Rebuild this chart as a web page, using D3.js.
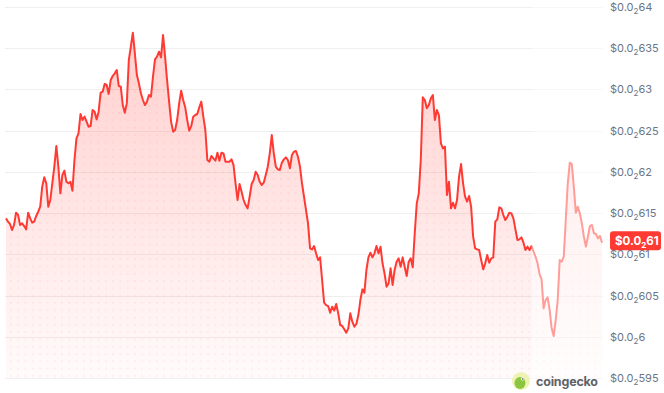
<!DOCTYPE html>
<html lang="en">
<head>
    <meta charset="UTF-8">
    <title>Price chart 24h</title>
    <script src="https://d3js.org/d3.v7.min.js"></script>
    <style>
        html, body { margin: 0; padding: 0; background: #fff; }
        #chart { width: 664px; height: 393px; }
        .tick-label { font-family: Inter, "Open Sans", sans-serif; font-size: 11px; fill: #6b7588; }
        .grid line { stroke: #efefef; stroke-width: 1; }
        .badge-text { font-family: Inter, sans-serif; font-size: 11.5px; font-weight: 700; fill: #fff; }
        .brand { font-family: Inter, sans-serif; font-size: 12.5px; font-weight: 700; fill: #5f6368; }
    </style>
</head>
<body>
    <div id="chart"></div>

    <script>
        // price every ~5 minutes over 24h
        const prices = [
            0.0061436, 0.0061396, 0.0061368, 0.0061295, 0.0061356, 0.0061505, 0.0061477, 0.0061356, 0.0061376, 0.0061343,
            0.0061303, 0.0061505, 0.0061436, 0.0061384, 0.0061396, 0.0061465, 0.0061517, 0.0061578, 0.0061821, 0.0061934,
            0.0061861, 0.0061578, 0.0061659, 0.0061861, 0.0062063, 0.0062314, 0.0062063, 0.0061740, 0.0061962, 0.0062015,
            0.0061881, 0.0061861, 0.0061881, 0.0061772, 0.0062144, 0.0062407, 0.0062467, 0.0062702, 0.0062629, 0.0062670,
            0.0062609, 0.0062548, 0.0062556, 0.0062750, 0.0062730, 0.0062637, 0.0062730, 0.0062961, 0.0062973, 0.0063066,
            0.0063054, 0.0062945, 0.0063114, 0.0063163, 0.0063195, 0.0063236, 0.0063042, 0.0063033, 0.0062811, 0.0062718,
            0.0062831, 0.0063357, 0.0063519, 0.0063688, 0.0063438, 0.0063175, 0.0063074, 0.0062953, 0.0062872, 0.0062811,
            0.0062852, 0.0062932, 0.0062912, 0.0063155, 0.0063365, 0.0063397, 0.0063458, 0.0063389, 0.0063660, 0.0063397,
            0.0063114, 0.0062852, 0.0062609, 0.0062488, 0.0062508, 0.0062629, 0.0062831, 0.0062985, 0.0062872, 0.0062783,
            0.0062629, 0.0062500, 0.0062556, 0.0062670, 0.0062690, 0.0062702, 0.0062783, 0.0062852,
            0.0062670, 0.0062508, 0.0062144, 0.0062124, 0.0062193, 0.0062164, 0.0062136, 0.0062233, 0.0062136, 0.0062233,
            0.0062225, 0.0062124, 0.0062124, 0.0062124, 0.0062152, 0.0062083, 0.0061861, 0.0061659, 0.0061853, 0.0061760,
            0.0061659, 0.0061598, 0.0061558, 0.0061699, 0.0061853, 0.0061901, 0.0062002, 0.0061962, 0.0061881, 0.0061841,
            0.0061869, 0.0061962, 0.0062063, 0.0062225, 0.0062447, 0.0062225, 0.0062063, 0.0062031, 0.0062023, 0.0062112,
            0.0062152, 0.0062176, 0.0062144, 0.0062043, 0.0062205, 0.0062245, 0.0062253, 0.0062184, 0.0062063, 0.0061861,
            0.0061699, 0.0061538, 0.0061376, 0.0061073, 0.0061060, 0.0061101, 0.0061012, 0.0060931, 0.0060963, 0.0060689,
            0.0060414, 0.0060385, 0.0060373, 0.0060292, 0.0060365, 0.0060317, 0.0060397, 0.0060284, 0.0060143, 0.0060131,
            0.0060090, 0.0060050, 0.0060102, 0.0060284, 0.0060183, 0.0060122, 0.0060155, 0.0060264, 0.0060446, 0.0060575,
            0.0060535, 0.0060810, 0.0060963, 0.0061020, 0.0060963, 0.0061012, 0.0061101, 0.0061012, 0.0061093, 0.0060891,
            0.0060769, 0.0060608, 0.0060648, 0.0060830, 0.0060628, 0.0060810, 0.0060911, 0.0060951, 0.0060850, 0.0060963,
            0.0060850, 0.0060737, 0.0060911, 0.0060951, 0.0060842, 0.0061255, 0.0061618, 0.0061740, 0.0062144, 0.0062904,
            0.0062872, 0.0062771, 0.0062811, 0.0062892, 0.0062932, 0.0062629, 0.0062750, 0.0062690, 0.0062346, 0.0062285,
            0.0062306, 0.0061719, 0.0061881, 0.0061558, 0.0061626, 0.0061558, 0.0061659, 0.0061942, 0.0062095, 0.0061861,
            0.0061699, 0.0061639, 0.0061707, 0.0061578, 0.0061214, 0.0061073, 0.0061060, 0.0061052, 0.0060931, 0.0060818,
            0.0060891, 0.0060992, 0.0060899, 0.0060951, 0.0060963, 0.0061396, 0.0061424, 0.0061570, 0.0061558, 0.0061477,
            0.0061416, 0.0061457, 0.0061505, 0.0061497, 0.0061436, 0.0061303, 0.0061174, 0.0061182, 0.0061206, 0.0061141,
            0.0061052, 0.0061093, 0.0061052, 0.0061101,
            0.0061032, 0.0060972, 0.0060891, 0.0060761, 0.0060697, 0.0060345, 0.0060446, 0.0060478, 0.0060325, 0.0060102,
            0.0060009, 0.0060203, 0.0060446, 0.0060931, 0.0060911, 0.0060972, 0.0061416, 0.0061861, 0.0062112, 0.0062095,
            0.0061821, 0.0061505, 0.0061578, 0.0061497, 0.0061376, 0.0061214, 0.0061093, 0.0061214, 0.0061343, 0.0061356,
            0.0061255, 0.0061246, 0.0061194, 0.0061222, 0.0061141
        ];
        // index of the hovered point: the rest of the series is faded
        const hoverIndex = 261;
        const yTicks = [0.00595, 0.006, 0.00605, 0.0061, 0.00615, 0.0062, 0.00625, 0.0063, 0.00635, 0.0064];

        const width = 664, height = 393;
        const svg = d3.select("#chart").append("svg")
            .attr("width", width)
            .attr("height", height);

        const x = d3.scaleLinear().domain([0, prices.length - 1]).range([6, 602]);
        const y = d3.scaleLinear().domain([0.00595, 0.0064]).range([378, 7]);

        // "$0.0₂635" style label parts
        function digits(v) {
            return d3.format(".5f")(v).replace(/0+$/, "").slice(4);
        }
        function priceLabel(sel, v) {
            sel.append("tspan").text("$0.0");
            sel.append("tspan").attr("font-size", "8px").attr("dy", 3).text("2");
            sel.append("tspan").attr("dy", -3).text(v);
        }

        const defs = svg.append("defs");
        const grad = defs.append("linearGradient")
            .attr("id", "areaGrad")
            .attr("gradientUnits", "userSpaceOnUse")
            .attr("x1", 0).attr("x2", 0)
            .attr("y1", y(0.0064)).attr("y2", y(0.00595));
        grad.append("stop").attr("offset", "0%").attr("stop-color", "#ff3a33").attr("stop-opacity", 0.26);
        grad.append("stop").attr("offset", "100%").attr("stop-color", "#ff3a33").attr("stop-opacity", 0.02);

        const pat = defs.append("pattern")
            .attr("id", "dots")
            .attr("patternUnits", "userSpaceOnUse")
            .attr("width", 7.3).attr("height", 7.3);
        pat.append("circle").attr("cx", 3.6).attr("cy", 3.6).attr("r", 1.1)
            .attr("fill", "#ff3a33").attr("fill-opacity", 0.07);

        // grid
        svg.append("g").attr("class", "grid")
            .selectAll("line")
            .data(yTicks)
            .enter()
            .append("line")
            .attr("x1", 5).attr("x2", 603)
            .attr("y1", d => Math.round(y(d)) + 0.5)
            .attr("y2", d => Math.round(y(d)) + 0.5);

        // area + dotted texture + line
        const area = d3.area()
            .x((d, i) => x(i))
            .y0(y(0.00595))
            .y1(d => y(d));
        const line = d3.line()
            .x((d, i) => x(i))
            .y(d => y(d));

        svg.append("path").datum(prices).attr("d", area).attr("fill", "url(#areaGrad)");
        svg.append("path").datum(prices).attr("d", area).attr("fill", "url(#dots)");
        svg.append("path").datum(prices)
            .attr("d", line)
            .attr("fill", "none")
            .attr("stroke", "#ff3a33")
            .attr("stroke-width", 2)
            .attr("stroke-linejoin", "round");

        // fade everything after the hovered point
        svg.append("rect")
            .attr("x", x(hoverIndex))
            .attr("y", 0)
            .attr("width", 603 - x(hoverIndex))
            .attr("height", 386)
            .attr("fill", "#fff")
            .attr("fill-opacity", 0.5);

        // y tick labels on the right
        svg.append("g")
            .selectAll("text")
            .data(yTicks)
            .enter()
            .append("text")
            .attr("class", "tick-label")
            .attr("x", 610)
            .attr("y", d => y(d) + 4)
            .each(function (d) { priceLabel(d3.select(this), digits(d)); });

        // current price badge
        const last = prices[prices.length - 1];
        const by = y(last) - 2;
        svg.append("rect")
            .attr("x", 610).attr("y", by - 9.5)
            .attr("width", 51).attr("height", 19)
            .attr("rx", 3)
            .attr("fill", "#ff3a33");
        const bt = svg.append("text")
            .attr("class", "badge-text")
            .attr("x", 615)
            .attr("y", by + 4);
        priceLabel(bt, (+last.toPrecision(2)).toString().slice(4));

        // coingecko mark
        const logo = svg.append("g").attr("transform", "translate(521,381)");
        logo.append("circle").attr("r", 9).attr("fill", "#eef3b4");
        logo.append("ellipse").attr("cx", -1).attr("cy", 2).attr("rx", 5.5).attr("ry", 6).attr("fill", "#8cc63f");
        logo.append("circle").attr("cx", 1.5).attr("cy", -2).attr("r", 1.6).attr("fill", "#fff");
        logo.append("circle").attr("cx", 1.8).attr("cy", -2).attr("r", 0.8).attr("fill", "#333");
        svg.append("text")
            .attr("class", "brand")
            .attr("x", 536)
            .attr("y", 386)
            .attr("textLength", 62)
            .text("coingecko");
    </script>
</body>
</html>
